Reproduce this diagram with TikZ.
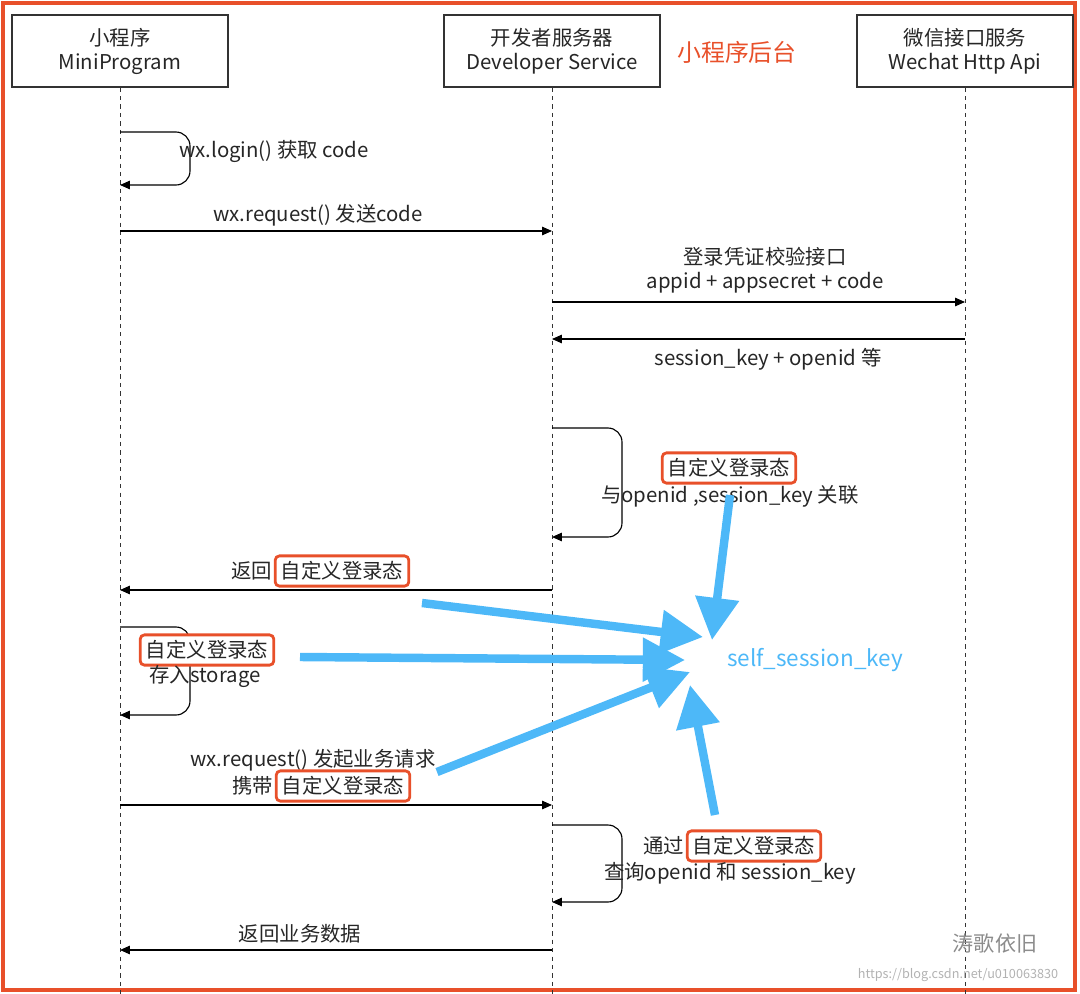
\documentclass[tikz,border=0pt]{standalone}
\usepackage{fontspec}
\setmainfont{Noto Sans CJK SC}
\usetikzlibrary{arrows.meta}
\definecolor{org}{HTML}{E8502A}
\definecolor{blu}{HTML}{4DB8F8}
\begin{document}
\begin{tikzpicture}[x=0.025cm,y=-0.025cm,
  every node/.style={font=\fontsize{14.5}{17}\selectfont, text=black!85, inner sep=1pt},
  actor/.style={draw=black!80, line width=0.8pt, minimum width=5.4cm, minimum height=1.8cm, align=center},
  life/.style={dashed, line width=0.7pt, black!80},
  msg/.style={line width=0.8pt, -{Triangle[length=7pt,width=6pt]}},
  obox/.style={draw=org, line width=2pt, rounded corners=3pt, inner sep=4pt},
  big/.style={blu, line width=6pt, -{Triangle[length=30pt,width=30pt]}}]
\useasboundingbox (0,0) rectangle (1080,994);
\draw[org, line width=2.5pt] (3,3) rectangle (1075,990);
\node[actor] (mp) at (120,51) {小程序\\MiniProgram};
\node[actor] (ds) at (552,51) {开发者服务器\\Developer Service};
\node[actor] (wx) at (965,51) {微信接口服务\\Wechat Http Api};
\node[text=org, font=\fontsize{17}{20}\selectfont] (title) at (737,52) {小程序后台};
\coordinate (mpe) at (120,994); \coordinate (dse) at (552,994); \coordinate (wxe) at (965,994);
\draw[life] (mp.south) -- (mpe);
\draw[life] (ds.south) -- (dse);
\draw[life] (wx.south) -- (wxe);
\coordinate (l1a) at (120,132); \coordinate (l1b) at (120,185);
\draw[msg, rounded corners=10pt] (l1a) -- (190,132) -- (190,185) -- (l1b);
\node (t1) at (274,151) {wx.login() 获取 code};
\coordinate (a2s) at (120,231); \coordinate (a2e) at (552,231);
\draw[msg] (a2s) -- (a2e);
\node (t2) at (318,215) {wx.request() 发送code};
\coordinate (a3s) at (552,302); \coordinate (a3e) at (965,302);
\draw[msg] (a3s) -- (a3e);
\node[align=center] (t3) at (765,270) {登录凭证校验接口\\appid + appsecret + code};
\coordinate (a4s) at (965,339); \coordinate (a4e) at (552,339);
\draw[msg] (a4s) -- (a4e);
\node (t4) at (768,359) {session\_key + openid 等};
\coordinate (l2a) at (552,428); \coordinate (l2b) at (552,537);
\draw[msg, rounded corners=10pt] (l2a) -- (622,428) -- (622,537) -- (l2b);
\node[obox] (b5) at (729,468) {自定义登录态};
\node (t5) at (730,496) {与openid ,session\_key 关联};
\coordinate (a6s) at (552,590); \coordinate (a6e) at (120,590);
\draw[msg] (a6s) -- (a6e);
\node[obox] (b6) at (342,571) {自定义登录态};
\node[anchor=east] (t6) at (b6.west) {返回};
\coordinate (l3a) at (120,627); \coordinate (l3b) at (120,715);
\draw[msg, rounded corners=10pt] (l3a) -- (190,627) -- (190,715) -- (l3b);
\node[obox, fill=white] (b7) at (207,650) {自定义登录态};
\node (t7) at (205,676) {存入storage};
\coordinate (a8s) at (120,805); \coordinate (a8e) at (552,805);
\draw[msg] (a8s) -- (a8e);
\node (t8) at (313,760) {wx.request() 发起业务请求};
\node[obox] (b8) at (343,786) {自定义登录态};
\node[anchor=east] (t8b) at (b8.west) {携带 };
\coordinate (l4a) at (552,825); \coordinate (l4b) at (552,902);
\draw[msg, rounded corners=10pt] (l4a) -- (622,825) -- (622,902) -- (l4b);
\node[obox] (b9) at (754,846) {自定义登录态};
\node[anchor=east] (t9) at (b9.west) {通过};
\node (t9b) at (730,873) {查询openid 和 session\_key};
\coordinate (a10s) at (552,950); \coordinate (a10e) at (120,950);
\draw[msg] (a10s) -- (a10e);
\node (t10) at (300,934) {返回业务数据};
\node[text=blu, font=\fontsize{16}{19}\selectfont] (sk) at (815,660) {self\_session\_key};
\coordinate (c1) at (730,495); \coordinate (d1) at (712,640);
\coordinate (c2) at (422,603); \coordinate (d2) at (703,637);
\coordinate (c3) at (300,657); \coordinate (d3) at (685,660);
\coordinate (c4) at (437,772); \coordinate (d4) at (690,672);
\coordinate (c5) at (715,815); \coordinate (d5) at (690,685);
\draw[big] (c1) -- (d1);
\draw[big] (c2) -- (d2);
\draw[big] (c3) -- (d3);
\draw[big] (c4) -- (d4);
\draw[big] (c5) -- (d5);
\node[text=black!45, font=\fontsize{15}{18}\selectfont] (wm) at (995,944) {涛歌依旧};
\node[text=black!30, font=\fontsize{9}{11}\selectfont] (wm2) at (958,975) {https://blog.csdn.net/u010063830};
\end{tikzpicture}
\end{document}
